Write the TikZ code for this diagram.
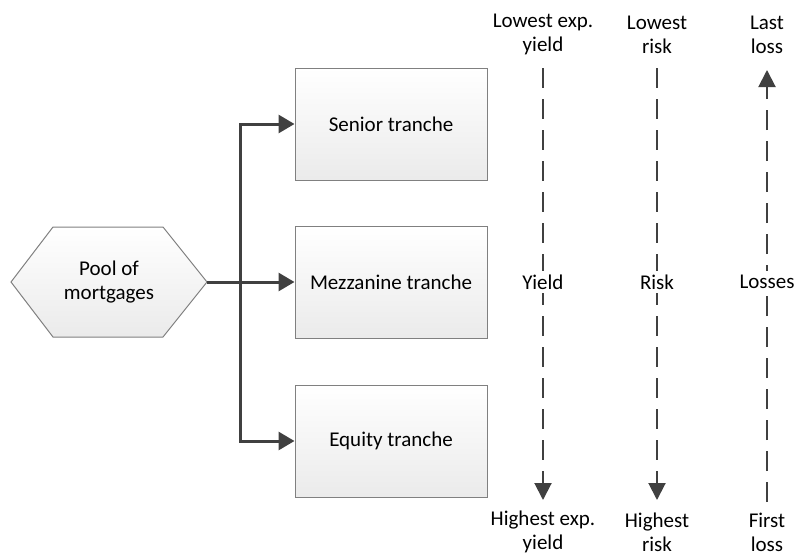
\documentclass[tikz,border=0pt]{standalone}
\usepackage{fontspec}
\setmainfont{Carlito}
\usetikzlibrary{arrows.meta,shapes.geometric}
\definecolor{edgegray}{HTML}{404040}
\definecolor{boxline}{HTML}{808080}
\tikzset{
  tranche/.style={draw=boxline, line width=1pt, top color=white, bottom color=black!8, minimum width=192pt, minimum height=112pt, font=\fontsize{21}{24}\selectfont, align=center},
  pool/.style={draw=boxline, line width=1pt, top color=white, bottom color=black!8},
  conn/.style={draw=edgegray, line width=3pt, -{Triangle[length=16pt,width=18pt]}},
  scaleline/.style={draw=edgegray, line width=2pt, dash pattern=on 20pt off 11pt, -{Triangle[length=17pt,width=17pt]}},
  lbl/.style={font=\fontsize{21}{24}\selectfont, align=center, text=black, inner sep=0pt},
}
\begin{document}
\begin{tikzpicture}[x=1pt,y=-1pt]
\useasboundingbox (0,0) rectangle (795,557);
% hexagon
\path[pool] (11,282) -- (53,227) -- (163,227) -- (207,282) -- (163,337) -- (53,337) -- cycle;
\node[lbl] (pool) at (109,282) {Pool of\\mortgages};
\coordinate (poolR) at (207,282);
\node[tranche] (sen) at (391,124) {Senior tranche};
\node[tranche] (mez) at (391,282) {Mezzanine tranche};
\node[tranche] (equ) at (391,441) {Equity tranche};
\coordinate (junc) at (240,282);
\draw[conn] (poolR) -- (mez.west);
\draw[conn] (junc) |- (sen.west);
\draw[conn] (junc) |- (equ.west);
% scales
\node[lbl] (y1) at (543,34.5) {Lowest exp.\\yield};
\node[lbl] (r1) at (657,34.5) {Lowest\\risk};
\node[lbl] (l1) at (767,34.5) {Last\\loss};
\node[lbl] (y2) at (543,532) {Highest exp.\\yield};
\node[lbl] (r2) at (657,532) {Highest\\risk};
\node[lbl] (l2) at (767,532) {First\\loss};
\coordinate (ya) at (543,68); \coordinate (yb) at (543,500);
\coordinate (ra) at (657,68); \coordinate (rb) at (657,500);
\coordinate (la) at (767,502); \coordinate (lb) at (767,70);
\draw[scaleline] (ya) -- (yb);
\draw[scaleline] (ra) -- (rb);
\draw[scaleline] (la) -- (lb);
\node[lbl, fill=white, inner sep=4pt] (ym) at (543,282) {Yield};
\node[lbl, fill=white, inner sep=4pt] (rm) at (657,282) {Risk};
\node[lbl, fill=white, inner sep=4pt] (lm) at (767,282) {Losses};
\end{tikzpicture}
\end{document}
